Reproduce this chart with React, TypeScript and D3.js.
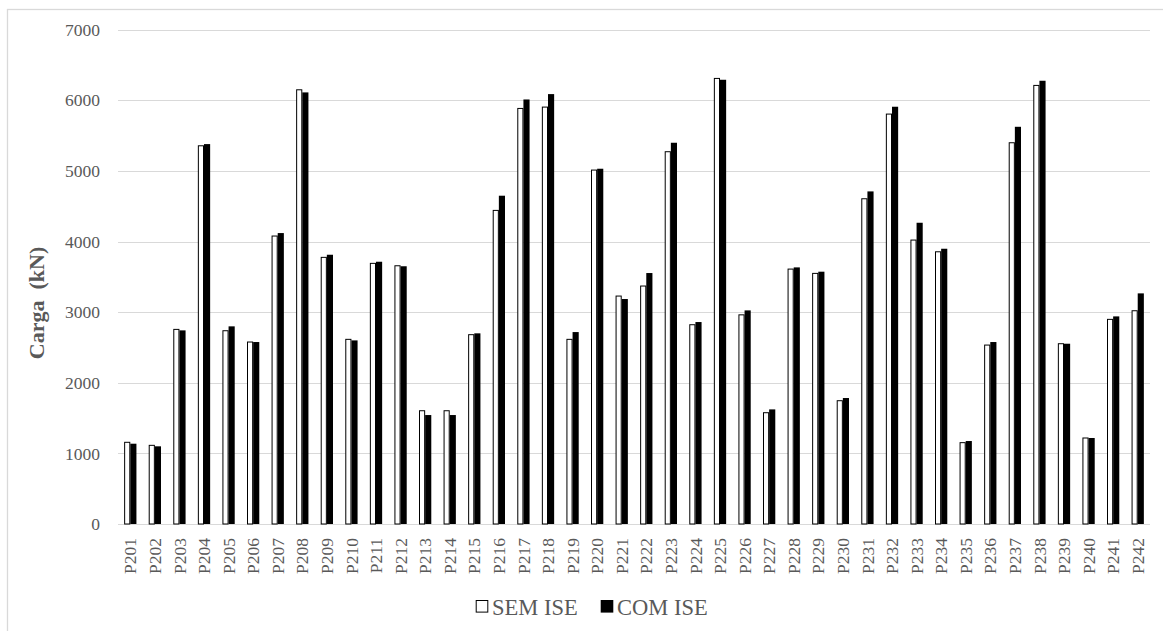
import React from "react";
import * as d3 from "d3";

const categories = [
  "P201","P202","P203","P204","P205","P206","P207","P208","P209","P210",
  "P211","P212","P213","P214","P215","P216","P217","P218","P219","P220",
  "P221","P222","P223","P224","P225","P226","P227","P228","P229","P230",
  "P231","P232","P233","P234","P235","P236","P237","P238","P239","P240",
  "P241","P242",
];

const semISE = [
  1157, 1114, 2756, 5356, 2737, 2577, 4078, 6149, 3776, 2615,
  3691, 3657, 1604, 1604, 2681, 4441, 5885, 5904, 2615, 5012,
  3228, 3370, 5272, 2822, 6310, 2962, 1576, 3610, 3549, 1746,
  4606, 5805, 4021, 3855, 1152, 2534, 5399, 6211, 2553, 1218,
  2898, 3020,
];

const comISE = [
  1137, 1100, 2742, 5380, 2799, 2577, 4120, 6112, 3813, 2600,
  3714, 3650, 1543, 1543, 2700, 4649, 6012, 6088, 2718, 5031,
  3186, 3554, 5399, 2860, 6291, 3025, 1623, 3634, 3573, 1784,
  4710, 5909, 4266, 3898, 1175, 2577, 5625, 6277, 2553, 1218,
  2940, 3266,
];

const yTicks = [0, 1000, 2000, 3000, 4000, 5000, 6000, 7000];
const seriesNames = ["SEM ISE", "COM ISE"];

const W = 1163;
const H = 631;
const FONT = "'Liberation Serif', 'Times New Roman', serif";
const GRID = "#d9d9d9";
const TEXT = "#595959";

export default function App() {
  const left = 118;
  const right = 1150;
  const top = 29.7;
  const bottom = 524;

  const x0 = d3
    .scaleBand<string>()
    .domain(categories)
    .range([left, right])
    .paddingInner(0.5)
    .paddingOuter(0.25);
  const x1 = d3
    .scaleBand<string>()
    .domain(seriesNames)
    .range([0, x0.bandwidth()])
    .padding(0);
  const y = d3.scaleLinear().domain([0, 7000]).range([bottom, top]);

  return (
    <svg
      width={W}
      height={H}
      style={{ position: "absolute", left: 0, top: 0, background: "#fff" }}
      fontFamily={FONT}
    >
      <rect x={0} y={0} width={W} height={H} fill="#fff" />
      {/* chart frame */}
      <rect x={7.5} y={9.5} width={W + 10} height={H + 10} fill="none" stroke={GRID} strokeWidth={1.3} />

      {/* gridlines + y labels */}
      {yTicks.map((t) => (
        <g key={t}>
          <line x1={left} x2={right} y1={Math.round(y(t)) + 0.5} y2={Math.round(y(t)) + 0.5} stroke={GRID} strokeWidth={1.2} />
          <text x={100} y={y(t)} dy="0.35em" textAnchor="end" fontSize={17.5} fill={TEXT}>
            {t}
          </text>
        </g>
      ))}

      {/* bars */}
      {categories.map((c, i) => {
        const gx = x0(c)!;
        const sx = gx + x1("SEM ISE")!;
        const cx = gx + x1("COM ISE")!;
        const bw = x1.bandwidth();
        return (
          <g key={c}>
            <rect
              x={sx + 0.5}
              y={y(semISE[i])}
              width={bw - 1}
              height={bottom - y(semISE[i])}
              fill="#fff"
              stroke="#000"
              strokeWidth={1}
            />
            <rect
              x={cx}
              y={y(comISE[i])}
              width={bw}
              height={bottom - y(comISE[i])}
              fill="#000"
            />
          </g>
        );
      })}

      {/* x labels */}
      {categories.map((c) => {
        const cxm = x0(c)! + x0.bandwidth() / 2;
        return (
          <text
            key={"l" + c}
            transform={`translate(${cxm},${538}) rotate(-90)`}
            textAnchor="end"
            dy="0.35em"
            fontSize={17.5}
            fill={TEXT}
          >
            {c}
          </text>
        );
      })}

      {/* y title */}
      <text
        transform={`translate(${36},${303}) rotate(-90)`}
        textAnchor="middle"
        dy="0.35em"
        fontSize={22}
        fontWeight="bold"
        fill={TEXT}
        style={{ whiteSpace: "pre" }}
      >
        {"Carga  (kN)"}
      </text>

      {/* legend */}
      <g>
        <rect x={476.2} y={600.5} width={11.6} height={11.6} fill="#fff" stroke="#000" strokeWidth={1} />
        <text x={492} y={615} fontSize={22.5} fill={TEXT}>{seriesNames[0]}</text>
        <rect x={600.7} y={600} width={12.6} height={12.6} fill="#000" />
        <text x={617} y={615} fontSize={22.5} fill={TEXT}>{seriesNames[1]}</text>
      </g>
    </svg>
  );
}
